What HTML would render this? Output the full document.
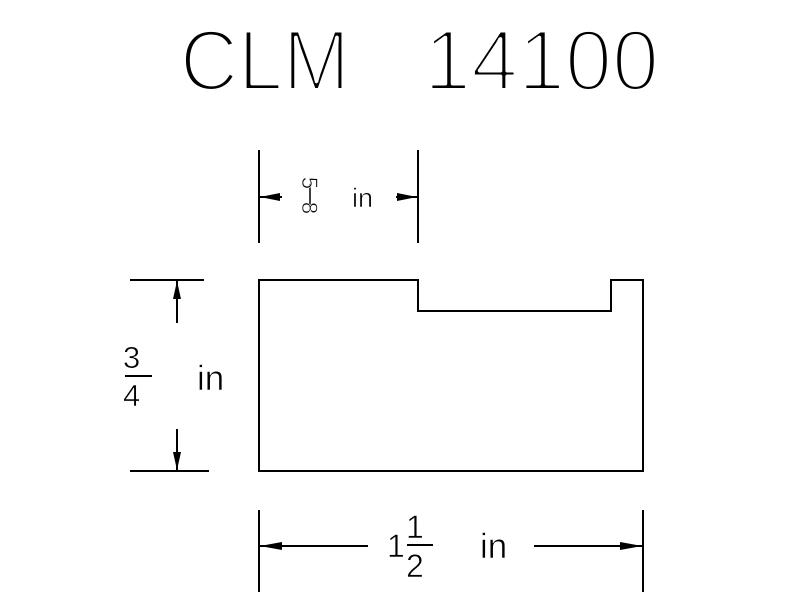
<!DOCTYPE html>
<html><head><meta charset="utf-8"><style>
html,body{margin:0;padding:0;background:#fff;}
svg{display:block;}
text{font-family:"Liberation Sans",sans-serif;fill:#000;}
.t{stroke:#fff;stroke-width:4;stroke-linejoin:round;}
.s{stroke:#fff;stroke-width:0.6;}
</style></head><body>
<svg width="800" height="600" viewBox="0 0 800 600" xmlns="http://www.w3.org/2000/svg">
<g stroke="#000" stroke-width="2" fill="none">
<polygon points="259,280 418,280 418,311 611,311 611,280 643,280 643,471 259,471"/>
<line x1="259" y1="150" x2="259" y2="243"/>
<line x1="418" y1="150" x2="418" y2="243"/>
<line x1="259" y1="197" x2="282" y2="197"/>
<line x1="396" y1="197" x2="418" y2="197"/>
<line x1="130" y1="280" x2="204" y2="280"/>
<line x1="130" y1="471" x2="209" y2="471"/>
<line x1="177" y1="280" x2="177" y2="323"/>
<line x1="177" y1="429" x2="177" y2="471"/>
<line x1="125" y1="376" x2="152" y2="376"/>
<line x1="259" y1="510" x2="259" y2="592"/>
<line x1="643" y1="510" x2="643" y2="592"/>
<line x1="259" y1="546" x2="368" y2="546"/>
<line x1="534" y1="546" x2="643" y2="546"/>
<line x1="407" y1="545" x2="433" y2="545"/>
<line x1="310" y1="184" x2="310" y2="210" stroke-width="1.5"/>
</g>
<g fill="#000">
<polygon points="260,197 280,193 280,201"/>
<polygon points="417,197 397,193 397,201"/>
<polygon points="177,281 173,299 181,299"/>
<polygon points="177,470 173,452 181,452"/>
<polygon points="260,546 282,542 282,550"/>
<polygon points="642,546 620,542 620,550"/>
</g>
<text class="t" x="180" y="90" font-size="86" textLength="170" lengthAdjust="spacingAndGlyphs">CLM</text>
<text class="t" x="424" y="90" font-size="86" textLength="235" lengthAdjust="spacingAndGlyphs">14100</text>
<text class="s" transform="translate(302,183) rotate(90)" font-size="22" text-anchor="middle" y="0">5</text>
<text class="s" transform="translate(302,208) rotate(90)" font-size="22" text-anchor="middle" y="0">8</text>
<text class="s" x="352" y="207" font-size="27">in</text>
<text class="s" x="123" y="368" font-size="31">3</text>
<text class="s" x="123" y="406" font-size="31">4</text>
<text class="s" x="197" y="390" font-size="35">in</text>
<text class="s" x="387" y="557" font-size="32">1</text>
<text class="s" x="406" y="538" font-size="32">1</text>
<text class="s" x="406" y="577" font-size="32">2</text>
<text class="s" x="480" y="558" font-size="35">in</text>
</svg>
</body></html>
